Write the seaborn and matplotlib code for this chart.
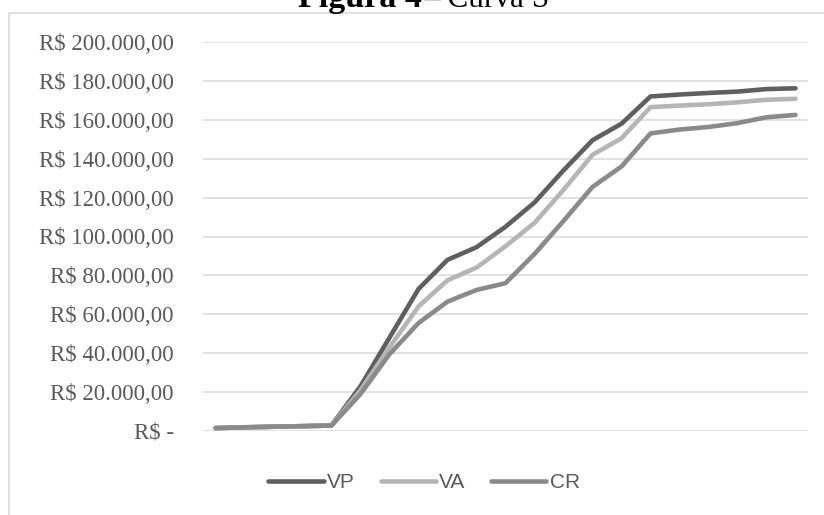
import matplotlib
matplotlib.use("Agg")
import matplotlib.pyplot as plt
from matplotlib.patches import Rectangle
from matplotlib.ticker import FixedLocator, FuncFormatter
from matplotlib.lines import Line2D
import seaborn as sns
import pandas as pd

periods = list(range(21))
vp = [1500, 1900, 2200, 2500, 2800, 23000, 48000, 73000, 88000, 94500, 105000,
      117500, 134000, 149500, 158000, 172000, 173000, 173800, 174500, 175800, 176200]
va = [1500, 1900, 2200, 2500, 2800, 21000, 43000, 64000, 77500, 84000, 95000,
      107000, 124000, 142000, 150500, 166500, 167300, 168000, 169000, 170300, 170800]
cr = [1500, 1900, 2200, 2500, 2800, 19000, 39500, 55500, 66500, 72500, 76000,
      91000, 108000, 125500, 136000, 153000, 155000, 156300, 158300, 161300, 162500]
series_names = ["VP", "VA", "CR"]
yticks = [0, 20000, 40000, 60000, 80000, 100000, 120000, 140000, 160000, 180000, 200000]

df = pd.concat([
    pd.DataFrame({"x": periods, "valor": vals, "serie": name})
    for name, vals in zip(series_names, [vp, va, cr])
])

sns.set_theme(style="white")
plt.rcParams["font.family"] = ["Liberation Serif", "DejaVu Serif"]

W, H = 824, 515
fig = plt.figure(figsize=(W / 100, H / 100), dpi=100)
ax = fig.add_axes([203 / W, 1 - 431 / H, 605 / W, 389 / H])

palette = {"VP": "#5f5f5f", "VA": "#b5b5b5", "CR": "#8a8a8a"}
sns.lineplot(data=df, x="x", y="valor", hue="serie", palette=palette,
             linewidth=3.3, ax=ax, legend=False, zorder=3)
for ln in ax.lines:
    ln.set_solid_capstyle("round")
    ln.set_solid_joinstyle("round")

ax.set_xlim(-0.43, 20.43)
ax.set_ylim(0, 200000)
ax.yaxis.set_major_locator(FixedLocator(yticks))


def fmt(v, pos):
    if v == 0:
        return "R$ -"
    s = f"{int(v):,}".replace(",", ".")
    return f"R$ {s},00"


ax.yaxis.set_major_formatter(FuncFormatter(fmt))
ax.set_xticks([])
ax.set_xlabel("")
ax.set_ylabel("")
ax.grid(axis="y", color="#d9d9d9", linewidth=1.1, zorder=0)
ax.grid(axis="x", visible=False)
for s in ax.spines.values():
    s.set_visible(False)
ax.tick_params(axis="y", length=0, pad=21, labelsize=16.5, labelcolor="#595959")
ax.set_facecolor("none")

# Legend
handles = [Line2D([0], [0], color=palette[n], linewidth=3.3, solid_capstyle="round")
           for n in series_names]
leg = fig.legend(handles, series_names, loc="center", bbox_to_anchor=(424 / W, 1 - 483 / H),
                 ncol=3, frameon=False, handlelength=2.65, handletextpad=0.15,
                 columnspacing=1.25,
                 prop={"family": ["Liberation Sans", "DejaVu Sans"], "size": 15})
for t in leg.get_texts():
    t.set_color("#595959")

# Chart border
fig.patches.append(Rectangle((9 / W, -0.05), 1.0, (H - 13) / H + 0.05, transform=fig.transFigure,
                             fill=False, edgecolor="#d9d9d9", linewidth=1.1, zorder=0))

# Title (cropped at top, as in the reference)
fig.text(298 / W, 1 - 7 / H, "Figura 4", ha="left", va="baseline", fontsize=24.5,
         fontweight="bold", color="black", family=["Liberation Serif", "DejaVu Serif"])
fig.text(424 / W, 1 - 7 / H, "– Curva S", ha="left", va="baseline", fontsize=22.5,
         color="black", family=["Liberation Serif", "DejaVu Serif"])

fig.savefig("out.png", dpi=100)
